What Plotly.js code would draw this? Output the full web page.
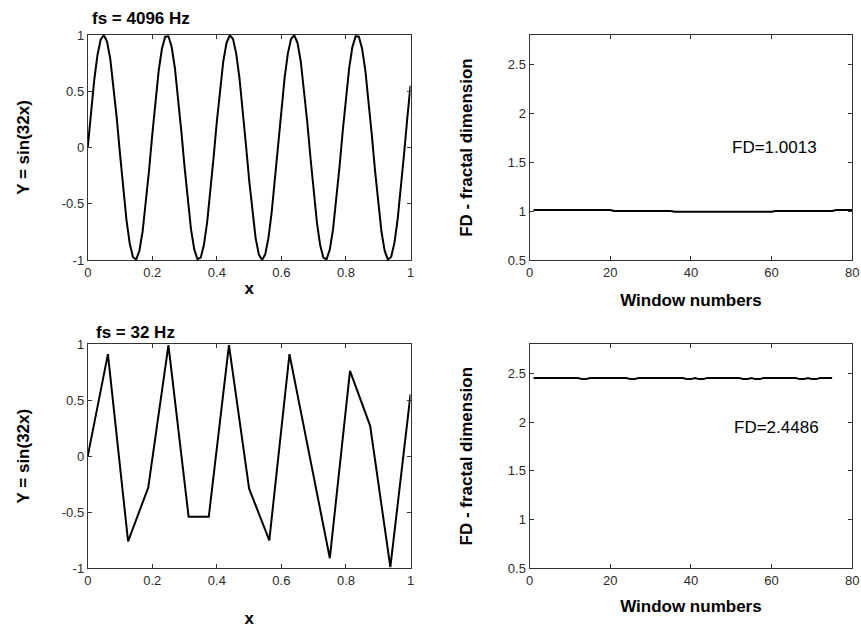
<!DOCTYPE html>
<html>
<head>
<meta charset="utf-8">
<script src="https://cdn.plot.ly/plotly-3.0.1.min.js"></script>
<style>html,body{margin:0;padding:0;background:#fff;}#chart{width:861px;height:630px;}</style>
</head>
<body>
<div id="chart"></div>
<script>
// Top-left: fs = 4096 Hz (every 0.01 in x)
var xHi = [0,0.01,0.02,0.03,0.04,0.05,0.06,0.07,0.08,0.09,
           0.10,0.11,0.12,0.13,0.14,0.15,0.16,0.17,0.18,0.19,
           0.20,0.21,0.22,0.23,0.24,0.25,0.26,0.27,0.28,0.29,
           0.30,0.31,0.32,0.33,0.34,0.35,0.36,0.37,0.38,0.39,
           0.40,0.41,0.42,0.43,0.44,0.45,0.46,0.47,0.48,0.49,
           0.50,0.51,0.52,0.53,0.54,0.55,0.56,0.57,0.58,0.59,
           0.60,0.61,0.62,0.63,0.64,0.65,0.66,0.67,0.68,0.69,
           0.70,0.71,0.72,0.73,0.74,0.75,0.76,0.77,0.78,0.79,
           0.80,0.81,0.82,0.83,0.84,0.85,0.86,0.87,0.88,0.89,
           0.90,0.91,0.92,0.93,0.94,0.95,0.96,0.97,0.98,0.99,1.00];
var yHi = [0,0.315,0.597,0.819,0.958,1.000,0.940,0.784,0.549,0.259,
           -0.058,-0.369,-0.643,-0.851,-0.973,-0.996,-0.918,-0.747,-0.500,-0.202,
           0.117,0.423,0.687,0.880,0.985,0.989,0.893,0.707,0.448,0.144,
           -0.174,-0.475,-0.728,-0.906,-0.993,-0.979,-0.865,-0.664,-0.395,-0.086,
           0.232,0.526,0.767,0.930,0.998,0.966,0.835,0.620,0.341,0.028,
           -0.288,-0.575,-0.803,-0.950,-1.000,-0.949,-0.801,-0.573,-0.286,0.030,
           0.343,0.621,0.837,0.966,0.998,0.929,0.765,0.524,0.229,-0.089,
           -0.398,-0.666,-0.867,-0.980,-0.993,-0.906,-0.726,-0.473,-0.172,0.147,
           0.451,0.708,0.895,0.990,0.985,0.879,0.685,0.421,0.114,-0.204,
           -0.502,-0.749,-0.919,-0.996,-0.973,-0.850,-0.641,-0.367,-0.056,0.261,0.551];

// Bottom-left: fs = 32 Hz samples
var xLo = [0,0.0625,0.125,0.1875,0.25,0.3125,0.375,0.4375,0.5,0.5625,0.625,0.6875,0.75,0.8125,0.875,0.9375,1];
var yLo = [0,0.91,-0.76,-0.28,0.99,-0.54,-0.54,0.99,-0.29,-0.75,0.91,-0.01,-0.91,0.76,0.27,-0.99,0.55];

// Top-right: FD per window (80 windows)
var winHi = [1,2,3,4,5,6,7,8,9,10,11,12,13,14,15,16,17,18,19,20,21,22,23,24,25,26,27,28,29,30,31,32,33,34,35,36,37,38,39,40,41,42,43,44,45,46,47,48,49,50,51,52,53,54,55,56,57,58,59,60,61,62,63,64,65,66,67,68,69,70,71,72,73,74,75,76,77,78,79,80];
var fdHi = [1.010,1.010,1.010,1.010,1.010,1.010,1.010,1.010,1.010,1.010,1.010,1.010,1.010,1.010,1.010,1.010,1.010,1.010,1.010,1.010,
            1.001,1.001,1.001,1.001,1.001,1.001,1.001,1.001,1.001,1.001,1.001,1.001,1.001,1.001,1.001,
            0.993,0.993,0.993,0.993,0.993,0.993,0.993,0.993,0.993,0.993,0.993,0.993,0.993,0.993,0.993,0.993,0.993,0.993,0.993,0.993,0.993,0.993,0.993,0.993,0.993,
            1.001,1.001,1.001,1.001,1.001,1.001,1.001,1.001,1.001,1.001,1.001,1.001,1.001,1.001,1.001,
            1.010,1.010,1.010,1.010,1.010];

// Bottom-right: FD per window (75 windows)
var winLo = [1,2,3,4,5,6,7,8,9,10,11,12,13,14,15,16,17,18,19,20,21,22,23,24,25,26,27,28,29,30,31,32,33,34,35,36,37,38,39,40,41,42,43,44,45,46,47,48,49,50,51,52,53,54,55,56,57,58,59,60,61,62,63,64,65,66,67,68,69,70,71,72,73,74,75];
var fdLo = [2.452,2.452,2.452,2.452,2.452,2.452,2.452,2.452,2.452,2.452,2.452,2.452,2.440,2.440,2.452,2.452,2.452,2.452,2.452,2.452,
            2.452,2.452,2.452,2.452,2.440,2.440,2.452,2.452,2.452,2.452,2.452,2.452,2.452,2.452,2.452,2.452,2.452,2.452,2.440,2.440,
            2.452,2.440,2.440,2.452,2.452,2.452,2.452,2.452,2.452,2.452,2.452,2.452,2.440,2.440,2.452,2.440,2.440,2.452,2.452,2.452,
            2.452,2.452,2.452,2.452,2.452,2.452,2.440,2.440,2.452,2.440,2.440,2.452,2.452,2.452,2.452];

var titles = ["fs = 4096 Hz", "fs = 32 Hz"];
var fdLabels = ["FD=1.0013", "FD=2.4486"];
var xTickVals = [0,0.2,0.4,0.6,0.8,1];
var xTickText = ["0","0.2","0.4","0.6","0.8","1"];
var yTickVals = [-1,-0.5,0,0.5,1];
var yTickText = ["-1","-0.5","0","0.5","1"];
var wTickVals = [0,20,40,60,80];
var wTickText = ["0","20","40","60","80"];
var fTickVals = [0.5,1,1.5,2,2.5];
var fTickText = ["0.5","1","1.5","2","2.5"];

var FONT = "Arial, 'Liberation Sans', sans-serif";
var lineStyle = {color:"#000", width:2};

var traces = [
  {x:xHi, y:yHi, xaxis:"x", yaxis:"y", type:"scatter", mode:"lines", line:lineStyle},
  {x:winHi, y:fdHi, xaxis:"x2", yaxis:"y2", type:"scatter", mode:"lines", line:lineStyle},
  {x:xLo, y:yLo, xaxis:"x3", yaxis:"y3", type:"scatter", mode:"lines", line:lineStyle},
  {x:winLo, y:fdLo, xaxis:"x4", yaxis:"y4", type:"scatter", mode:"lines", line:lineStyle}
];

function ax(domain, anchor, range, tv, tt, title, standoff) {
  return {
    domain: domain, anchor: anchor, range: range,
    tickmode: "array", tickvals: tv, ticktext: tt,
    ticks: "inside", ticklen: 4, tickcolor: "#333",
    showline: true, linecolor: "#333", linewidth: 1, mirror: "ticks",
    showgrid: false, zeroline: false, automargin: false,
    tickfont: {family: FONT, size: 13, color: "#2a2a2a"},
    title: {text: title, standoff: standoff, font: {family: FONT, size: 17, color: "#000", weight: 700}}
  };
}

var L = [0.1019, 0.4768], R = [0.615, 0.9899];
var T = [0.5873, 0.9444], B = [0.0979, 0.454];

var layout = {
  width: 861, height: 630,
  margin: {l:0, r:0, t:0, b:0},
  paper_bgcolor: "#fff", plot_bgcolor: "#fff",
  showlegend: false,
  font: {family: FONT, color: "#000"},
  xaxis:  ax(L, "y",  [0,1],   xTickVals, xTickText, "x", 3),
  yaxis:  ax(T, "x",  [-1,1],  yTickVals, yTickText, "Y = sin(32x)", 27),
  xaxis2: ax(R, "y2", [0,80],  wTickVals, wTickText, "Window numbers", 15),
  yaxis2: ax(T, "x2", [0.5,2.8], fTickVals, fTickText, "FD - fractal dimension", 30),
  xaxis3: ax(L, "y3", [0,1],   xTickVals, xTickText, "x", 25),
  yaxis3: ax(B, "x3", [-1,1],  yTickVals, yTickText, "Y = sin(32x)", 27),
  xaxis4: ax(R, "y4", [0,80],  wTickVals, wTickText, "Window numbers", 13),
  yaxis4: ax(B, "x4", [0.5,2.8], fTickVals, fTickText, "FD - fractal dimension", 30),
  annotations: [
    {text: titles[0], xref:"paper", yref:"paper", x:0.1040, y:0.971, xanchor:"left", yanchor:"middle", showarrow:false, font:{family:FONT, size:17, weight:700, color:"#000"}},
    {text: titles[1], xref:"paper", yref:"paper", x:0.1090, y:0.4719, xanchor:"left", yanchor:"middle", showarrow:false, font:{family:FONT, size:17, weight:700, color:"#000"}},
    {text: fdLabels[0], xref:"x2", yref:"y2", x:60.7, y:1.648, xanchor:"center", yanchor:"middle", showarrow:false, font:{family:FONT, size:17, color:"#000"}},
    {text: fdLabels[1], xref:"x4", yref:"y4", x:61.2, y:1.946, xanchor:"center", yanchor:"middle", showarrow:false, font:{family:FONT, size:17, color:"#000"}}
  ]
};

Plotly.newPlot("chart", traces, layout, {staticPlot: true, displayModeBar: false});
</script>
</body>
</html>
